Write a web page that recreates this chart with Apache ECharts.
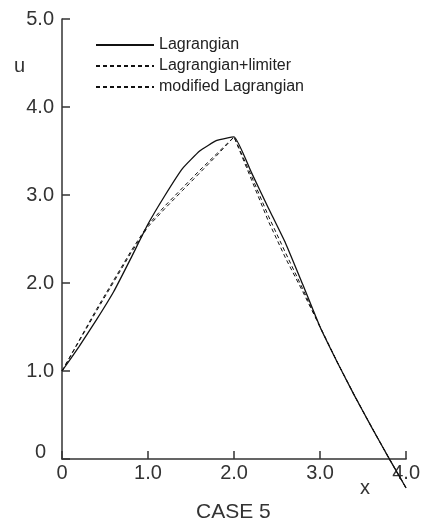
<!DOCTYPE html>
<html>
<head>
<meta charset="utf-8">
<script src="https://cdn.jsdelivr.net/npm/echarts@6/dist/echarts.min.js"></script>
<style>
html, body { margin: 0; padding: 0; background: #fff; }
#main { width: 423px; height: 526px; }
</style>
</head>
<body>
<div id="main"></div>
<script>
// 数据 (x, u)
var lagrangian = [
	[0, 1.0], [0.2, 1.28], [0.4, 1.58], [0.6, 1.9], [0.8, 2.28], [1.0, 2.67],
	[1.2, 3.0], [1.4, 3.3], [1.6, 3.5], [1.8, 3.62], [2.0, 3.66],
	[2.2, 3.26], [2.4, 2.85], [2.6, 2.45], [2.8, 1.98], [3.0, 1.5],
	[3.2, 1.1], [3.4, 0.72], [3.6, 0.36], [3.8, 0.01], [4.0, -0.33]
];
var lagrangianLimiter = [
	[0, 1.0], [0.2, 1.35], [0.4, 1.7], [0.6, 2.03], [0.8, 2.36], [1.0, 2.66],
	[1.2, 2.88], [1.4, 3.08], [1.6, 3.28], [1.8, 3.47], [2.0, 3.66],
	[2.2, 3.18], [2.4, 2.7], [2.6, 2.28], [2.8, 1.9], [3.0, 1.5],
	[3.2, 1.1], [3.4, 0.72], [3.6, 0.36], [3.8, 0.01], [4.0, -0.33]
];
var modifiedLagrangian = [
	[0, 1.0], [0.2, 1.34], [0.4, 1.68], [0.6, 2.01], [0.8, 2.34], [1.0, 2.64],
	[1.2, 2.85], [1.4, 3.05], [1.6, 3.25], [1.8, 3.45], [2.0, 3.66],
	[2.2, 3.22], [2.4, 2.76], [2.6, 2.34], [2.8, 1.93], [3.0, 1.5],
	[3.2, 1.1], [3.4, 0.72], [3.6, 0.36], [3.8, 0.01], [4.0, -0.33]
];
var seriesNames = ['Lagrangian', 'Lagrangian+limiter', 'modified Lagrangian'];
var xTicks = ['0', '1.0', '2.0', '3.0', '4.0'];
var yTicks = ['0', '1.0', '2.0', '3.0', '4.0', '5.0'];

var fontName = '"Liberation Sans", Arial, sans-serif';

option = {
	backgroundColor: '#fff',
	animation: false,
	grid: {
		left: 62,
		right: 13,
		top: 19,
		bottom: 67
	},
	legend: {
		orient: 'vertical',
		left: 95,
		top: 37,
		padding: 0,
		itemWidth: 58,
		itemHeight: 14,
		itemGap: 5,
		data: seriesNames,
		itemStyle: { opacity: 0 },
		textStyle: { color: '#222', fontSize: 16, fontFamily: fontName }
	},
	xAxis: {
		type: 'value',
		min: 0,
		max: 4,
		interval: 1,
		splitLine: { show: false },
		axisLine: { lineStyle: { color: '#333', width: 1.5 } },
		axisTick: { inside: true, length: 8, lineStyle: { color: '#333', width: 1.5 } },
		axisLabel: {
			margin: 4,
			color: '#333',
			fontSize: 20,
			fontFamily: fontName,
			formatter: function (v) { return xTicks[Math.round(v)]; }
		}
	},
	yAxis: {
		type: 'value',
		min: 0,
		max: 5,
		interval: 1,
		splitLine: { show: false },
		axisLine: { show: true, lineStyle: { color: '#333', width: 1.5 } },
		axisTick: { show: true, inside: true, length: 8, lineStyle: { color: '#333', width: 1.5 } },
		axisLabel: {
			margin: 8,
			color: '#333',
			fontSize: 20,
			fontFamily: fontName,
			formatter: function (v) {
				if (v == 0) return '{z|0}';
				return yTicks[Math.round(v)];
			},
			rich: {
				z: { fontSize: 20, fontFamily: fontName, color: '#333', padding: [0, 8, 14, 0] }
			}
		}
	},
	graphic: [
		{ type: 'text', left: 14, top: 56, style: { text: 'u', fontSize: 20, fontFamily: fontName, fill: '#333' } },
		{ type: 'text', left: 360, top: 478, style: { text: 'x', fontSize: 20, fontFamily: fontName, fill: '#333' } },
		{ type: 'text', left: 196, top: 502, style: { text: 'CASE 5', fontSize: 21, fontFamily: fontName, fill: '#333' } }
	],
	series: [
		{
			name: seriesNames[0],
			type: 'line',
			data: lagrangian,
			symbol: 'none',
			smooth: 0.12,
			clip: false,
			lineStyle: { color: '#111', width: 1.3, type: 'solid' },
			itemStyle: { color: '#111' }
		},
		{
			name: seriesNames[1],
			type: 'line',
			data: lagrangianLimiter,
			symbol: 'none',
			clip: false,
			lineStyle: { color: '#111', width: 1, type: [4, 3] },
			itemStyle: { color: '#111' }
		},
		{
			name: seriesNames[2],
			type: 'line',
			data: modifiedLagrangian,
			symbol: 'none',
			clip: false,
			lineStyle: { color: '#111', width: 1, type: [4, 3] },
			itemStyle: { color: '#111' }
		}
	]
};

var chart = echarts.init(document.getElementById("main"));
chart.setOption(option);
</script>
</body>
</html>
